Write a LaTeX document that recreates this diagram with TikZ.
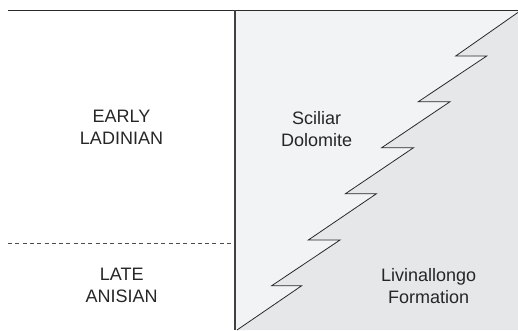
\documentclass[tikz,border=0pt]{standalone}
\usepackage{fontspec}
\setmainfont{Liberation Sans}
\definecolor{lightfill}{HTML}{F2F3F5}
\definecolor{darkfill}{HTML}{E6E7E9}
\definecolor{edge}{HTML}{2A2A2A}
\begin{document}
\begin{tikzpicture}[x=1pt,y=-1pt,
  lbl/.style={align=center,font=\fontsize{18}{22}\selectfont,text=black!85,inner sep=0pt},
  zig/.style={draw=edge,line width=0.8pt,line join=miter}]
\useasboundingbox (0,0) rectangle (518,330);
% right panel fills
\fill[lightfill] (235,10) rectangle (518,330);
\fill[darkfill] (237,330) -- (301.7,285.7) -- (271.7,285.7) -- (340,240) -- (308.3,240)
  -- (376.3,193.8) -- (345.3,193.8) -- (413.5,147.7) -- (381.7,147.7) -- (450,101.7)
  -- (418.3,101.7) -- (486.7,56) -- (455.7,56) -- (520,11) -- (518,330) -- cycle;
\draw[zig] (237,330) -- (301.7,285.7) -- (271.7,285.7) -- (340,240) -- (308.3,240)
  -- (376.3,193.8) -- (345.3,193.8) -- (413.5,147.7) -- (381.7,147.7) -- (450,101.7)
  -- (418.3,101.7) -- (486.7,56) -- (455.7,56) -- (520,11);
% frame lines
\draw[edge,line width=0.9pt] (8,10) -- (518,10);
\draw[black!75,line width=1.8pt] (235,10) -- (235,330);
\draw[black!70,line width=0.8pt,dash pattern=on 4pt off 3.3pt] (8,243.3) -- (232,243.3);
% labels
\node[lbl] (early) at (121.5,127.6) {EARLY\\LADINIAN};
\node[lbl] (late) at (121.7,285.5) {LATE\\ANISIAN};
\node[lbl] (sciliar) at (316.7,129) {Sciliar\\Dolomite};
\node[lbl] (livin) at (428.7,285.8) {Livinallongo\\Formation};
\end{tikzpicture}
\end{document}
